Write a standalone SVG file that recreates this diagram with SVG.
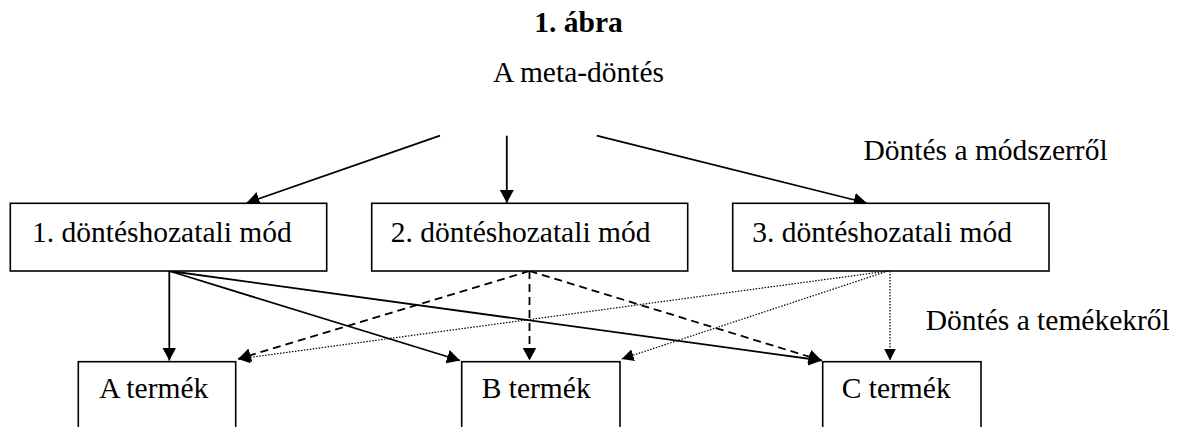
<svg xmlns="http://www.w3.org/2000/svg" width="1180" height="427" viewBox="0 0 1180 427">
<style>
text{font-family:'Liberation Serif',Tinos,'Times New Roman','DejaVu Serif',serif;font-size:29.5px;fill:#000}
.title{font-weight:bold}
.box{fill:#fff;stroke:#000;stroke-width:1.6}
.solid{stroke:#000;stroke-width:1.8;fill:none}
.dash{stroke:#000;stroke-width:1.8;fill:none;stroke-dasharray:8 5}
.dot{stroke:#000;stroke-width:1.2;fill:none;stroke-dasharray:1.5 1.5}
</style>
<defs>
<marker id="ah" markerUnits="userSpaceOnUse" markerWidth="14" markerHeight="14" refX="13" refY="7" orient="auto" viewBox="0 0 14 14">
<path d="M0,0 L13,7 L0,14 z" fill="#000"/>
</marker>
<marker id="ahs" markerUnits="userSpaceOnUse" markerWidth="12" markerHeight="12" refX="12" refY="6" orient="auto" viewBox="0 0 12 12">
<path d="M0,0 L12,6 L0,12 z" fill="#000"/>
</marker>
</defs>
<rect width="1180" height="427" fill="#fff"/>
<g font-family="Liberation Serif, Tinos, Times New Roman, DejaVu Serif, serif">
<text class="title" x="578.5" y="31.7" text-anchor="middle">1. ábra</text>
<text x="578.5" y="81.7" text-anchor="middle">A meta-döntés</text>
<text x="863.5" y="160">Döntés a módszerről</text>
<text x="925.7" y="330">Döntés a temékekről</text>
</g>
<g id="connectors">
<line class="solid" x1="440" y1="135.7" x2="246.5" y2="203" marker-end="url(#ah)"/>
<line class="solid" x1="506.8" y1="135.7" x2="506.8" y2="203" marker-end="url(#ah)"/>
<line class="solid" x1="596.7" y1="135.7" x2="866.7" y2="203" marker-end="url(#ah)"/>
<line class="solid" x1="169.3" y1="271" x2="169.3" y2="360.5" marker-end="url(#ah)"/>
<line class="solid" x1="169.3" y1="271" x2="460" y2="360.5" marker-end="url(#ah)"/>
<line class="solid" x1="169.3" y1="271" x2="821.7" y2="360.5" marker-end="url(#ah)"/>
<line class="dash" x1="529.5" y1="271" x2="238" y2="359" marker-end="url(#ah)"/>
<line class="dash" x1="529.5" y1="271" x2="529.5" y2="360.5" marker-end="url(#ah)"/>
<line class="dash" x1="529.5" y1="271" x2="821.7" y2="360.5" marker-end="url(#ah)"/>
<line class="dot" x1="888" y1="271" x2="238" y2="359" marker-end="url(#ahs)"/>
<line class="dot" x1="888" y1="271" x2="621.7" y2="359" marker-end="url(#ahs)"/>
<line class="dot" x1="890" y1="271" x2="890" y2="360.5" marker-end="url(#ahs)"/>
</g>
<g id="mod1" font-family="Liberation Serif, serif"><rect class="box" x="10.3" y="203.3" width="316.4" height="67.7"/><text x="32" y="241.7">1. döntéshozatali mód</text></g>
<g id="mod2" font-family="Liberation Serif, serif"><rect class="box" x="371.7" y="203.3" width="316" height="67.7"/><text x="390.7" y="241.7">2. döntéshozatali mód</text></g>
<g id="mod3" font-family="Liberation Serif, serif"><rect class="box" x="732.7" y="203.3" width="316.3" height="67.7"/><text x="752.3" y="241.7">3. döntéshozatali mód</text></g>
<g id="termekA" font-family="Liberation Serif, serif"><rect class="box" x="78.3" y="361.7" width="157.4" height="80"/><text x="99.3" y="398.3">A termék</text></g>
<g id="termekB" font-family="Liberation Serif, serif"><rect class="box" x="461.7" y="361.7" width="158.3" height="80"/><text x="481.7" y="398.3">B termék</text></g>
<g id="termekC" font-family="Liberation Serif, serif"><rect class="box" x="822.7" y="361.7" width="158.3" height="80"/><text x="841.7" y="398.3">C termék</text></g>
</svg>
